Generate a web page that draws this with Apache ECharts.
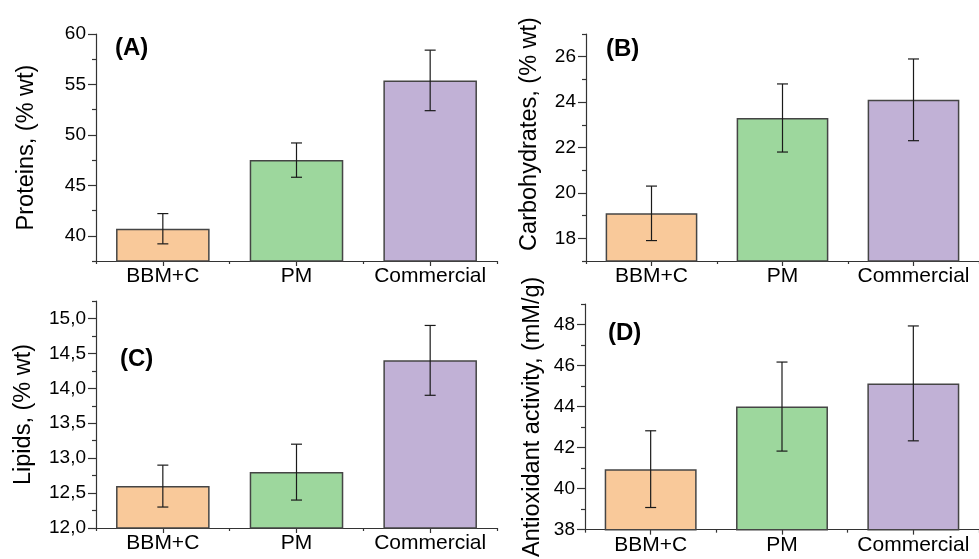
<!DOCTYPE html>
<html>
<head>
<meta charset="utf-8">
<script src="https://cdn.jsdelivr.net/npm/echarts@6/dist/echarts.min.js"></script>
<style>html,body{margin:0;padding:0;background:#fff}#c{width:979px;height:559px}</style>
</head>
<body>
<div id="c"></div>
<script>
// ---- data ----
const categories = ['BBM+C', 'PM', 'Commercial'];

const proteins = [40.7, 47.5, 55.4];
const proteinsErr = [1.5, 1.7, 3.0];
const proteinTicks = [40, 45, 50, 55, 60];
const proteinMinorTicks = [37.5, 42.5, 47.5, 52.5, 57.5];

const carbs = [19.1, 23.3, 24.1];
const carbsErr = [1.2, 1.5, 1.8];
const carbTicks = [18, 20, 22, 24, 26];
const carbMinorTicks = [17, 19, 21, 23, 25, 27];

const lipids = [12.6, 12.8, 14.4];
const lipidsErr = [0.3, 0.4, 0.5];
const lipidTicks = [12.0, 12.5, 13.0, 13.5, 14.0, 14.5, 15.0];
const lipidMinorTicks = [12.25, 12.75, 13.25, 13.75, 14.25, 14.75, 15.25];

const antiox = [40.95, 44.0, 45.13];
const antioxErr = [1.87, 2.17, 2.8];
const antioxTicks = [38, 40, 42, 44, 46, 48];
const antioxMinorTicks = [39, 41, 43, 45, 47, 49];

const barColors = ['#F9C99A', '#9DD79D', '#C1B1D6'];

// ---- layout / style ----
const FONT = 'Liberation Sans, Arial, sans-serif';
const panels = [
  {label:'(A)', name:'Proteins, (% wt)', vals:proteins, errs:proteinsErr, ticks:proteinTicks, minor:proteinMinorTicks,
   min:37.5, max:60, grid:{left:96, top:34, width:401, height:227}, gap:57, pad:[0,0,0,0], fmt:v=>String(v),
   lab:{left:115, top:36}},
  {label:'(B)', name:'Carbohydrates, (% wt)', vals:carbs, errs:carbsErr, ticks:carbTicks, minor:carbMinorTicks,
   min:17, max:27, grid:{left:586, top:34, width:401.5, height:227}, gap:44, pad:[0,0,0,27], fmt:v=>String(v),
   lab:{left:606, top:37}},
  {label:'(C)', name:'Lipids, (% wt)', vals:lipids, errs:lipidsErr, ticks:lipidTicks, minor:lipidMinorTicks,
   min:12, max:15.25, grid:{left:96, top:301, width:401, height:227}, gap:60, pad:[0,0,0,0], fmt:v=>v.toFixed(1).replace('.', ','),
   lab:{left:120, top:347}},
  {label:'(D)', name:'Antioxidant activity, (mM/g)', vals:antiox, errs:antioxErr, ticks:antioxTicks, minor:antioxMinorTicks,
   min:38, max:49, grid:{left:585, top:304, width:401, height:226.5}, gap:40, pad:[0,0,0,0], fmt:v=>String(v),
   lab:{left:608, top:321}}
];

const axisColor = '#333';
const grids = [], xAxes = [], yAxes = [], series = [], titles = [];

function renderErr(params, api) {
  const x = api.value(0), lo = api.value(1), hi = api.value(2);
  const pLo = api.coord([x, lo]), pHi = api.coord([x, hi]);
  const hw = 5.5;
  const st = {stroke:'#1a1a1a', lineWidth:1.2};
  return {type:'group', children:[
    {type:'line', shape:{x1:pLo[0], y1:pLo[1], x2:pHi[0], y2:pHi[1]}, style:st},
    {type:'line', shape:{x1:pLo[0]-hw, y1:pLo[1], x2:pLo[0]+hw, y2:pLo[1]}, style:st},
    {type:'line', shape:{x1:pHi[0]-hw, y1:pHi[1], x2:pHi[0]+hw, y2:pHi[1]}, style:st}
  ]};
}

panels.forEach((p, gi) => {
  grids.push(Object.assign({containLabel:false}, p.grid));
  const xMain = xAxes.length;
  xAxes.push({
    type:'category', gridIndex:gi, position:'bottom', data:categories,
    axisLine:{show:true, lineStyle:{color:axisColor, width:1.2}},
    axisTick:{show:true, alignWithLabel:true, interval:0, length:5, lineStyle:{color:axisColor, width:1.2}},
    axisLabel:{show:true, interval:0, hideOverlap:false, color:'#000', fontSize:21, fontFamily:FONT, margin:5},
    splitLine:{show:false}
  });
  xAxes.push({
    type:'category', gridIndex:gi, position:'bottom', data:categories,
    axisLine:{show:false}, axisLabel:{show:false},
    axisTick:{show:true, alignWithLabel:false, interval:0, length:3, lineStyle:{color:axisColor, width:1.2}},
    splitLine:{show:false}
  });
  const yMain = yAxes.length;
  yAxes.push({
    type:'value', gridIndex:gi, position:'left', min:p.min, max:p.max,
    name:p.name, nameLocation:'middle', nameGap:p.gap,
    nameTextStyle:{fontSize:23.5, fontFamily:FONT, color:'#000', padding:p.pad},
    axisLine:{show:true, lineStyle:{color:axisColor, width:1.2}},
    axisTick:{show:true, length:8, customValues:p.ticks, lineStyle:{color:axisColor, width:1.2}},
    axisLabel:{show:true, customValues:p.ticks, formatter:p.fmt, color:'#000', fontSize:19, fontFamily:FONT, margin:10},
    splitLine:{show:false}
  });
  yAxes.push({
    type:'value', gridIndex:gi, position:'left', min:p.min, max:p.max,
    axisLine:{show:false}, axisLabel:{show:false},
    axisTick:{show:true, length:4, customValues:p.minor, lineStyle:{color:axisColor, width:1.2}},
    splitLine:{show:false}
  });
  series.push({
    type:'bar', xAxisIndex:xMain, yAxisIndex:yMain, barWidth:'70%', silent:true,
    data:p.vals.map((v, i) => ({value:v, itemStyle:{color:barColors[i]}})),
    itemStyle:{borderColor:'#454545', borderWidth:1.5}
  });
  series.push({
    type:'custom', xAxisIndex:xMain, yAxisIndex:yMain, silent:true, z:5,
    renderItem:renderErr, encode:{x:0, y:[1, 2]},
    data:p.vals.map((v, i) => [i, v - p.errs[i], v + p.errs[i]])
  });
  titles.push({text:p.label, left:p.lab.left, top:p.lab.top, padding:0,
    textStyle:{fontSize:24, fontWeight:'bold', fontFamily:FONT, color:'#000'}});
});

const chart = echarts.init(document.getElementById('c'), null, {renderer:'canvas'});
chart.setOption({
  animation:false,
  backgroundColor:'#fff',
  title:titles,
  grid:grids,
  xAxis:xAxes,
  yAxis:yAxes,
  series:series
});
</script>
</body>
</html>
